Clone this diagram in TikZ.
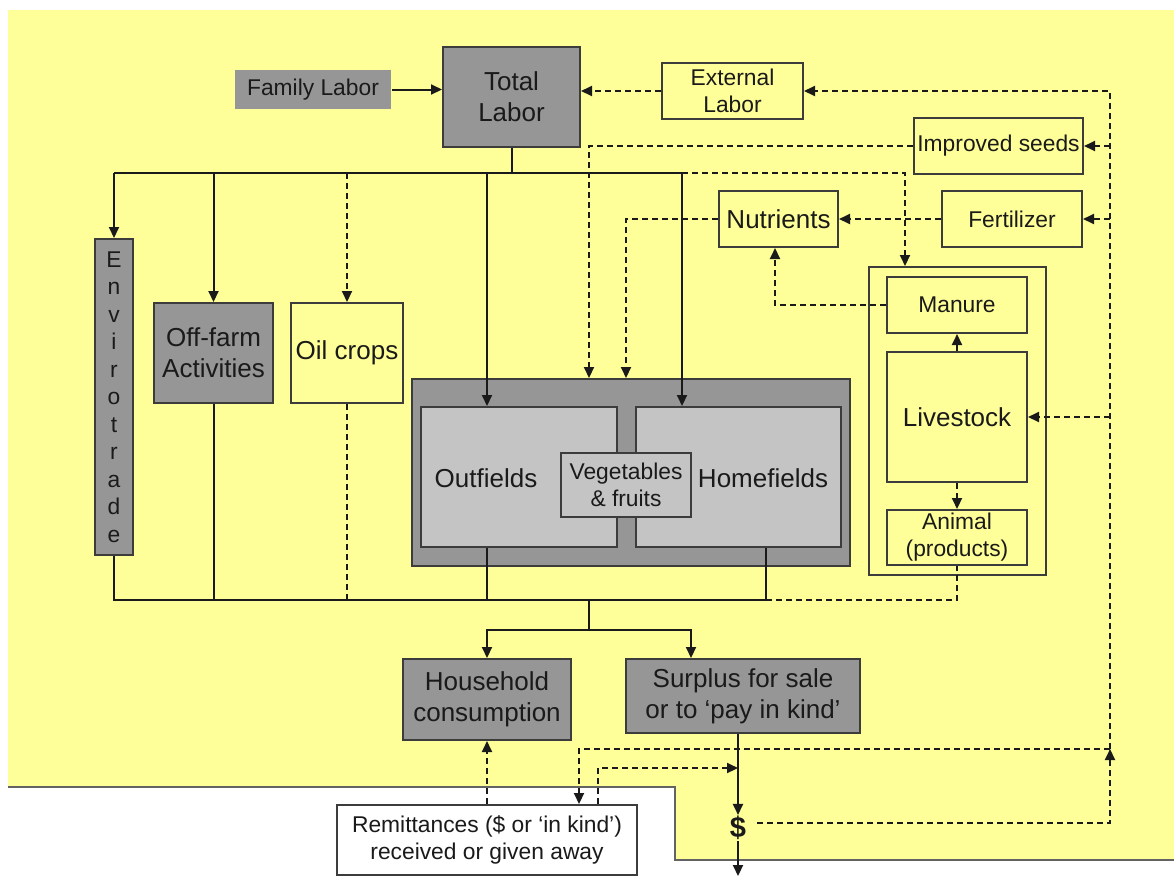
\documentclass[tikz,border=0pt]{standalone}
\usepackage{fontspec}
\setmainfont{Liberation Sans}
\usetikzlibrary{arrows.meta}
\definecolor{bgyellow}{HTML}{FFFF99}
\definecolor{dgray}{HTML}{969696}
\definecolor{lgray}{HTML}{C4C4C4}
\definecolor{edge}{HTML}{3C3C3C}
\definecolor{ink}{HTML}{1A1A1A}
\begin{document}
\begin{tikzpicture}[x=1pt,y=-1pt,
  box/.style={draw=edge,line width=2pt,inner sep=0pt,text=ink,align=center},
  big/.style={font=\fontsize{26}{31}\selectfont},
  small/.style={font=\fontsize{22.8}{27}\selectfont},
  ybox/.style={box,fill=bgyellow},
  gbox/.style={box,fill=dgray},
  lbox/.style={box,fill=lgray},
  sz/.style 2 args={minimum width=#1pt,minimum height=#2pt},
  conn/.style={draw=ink,line width=2pt},
  arr/.style={conn,-{Triangle[length=11pt,width=10pt]}},
  dconn/.style={conn,dash pattern=on 6pt off 4pt},
  darr/.style={dconn,-{Triangle[length=11pt,width=10pt]}},
]
\useasboundingbox (0,0) rectangle (1174,876);
\fill[white] (0,0) rectangle (1174,876);
\fill[bgyellow] (8,10) -- (1174,10) -- (1174,860) -- (675,860) -- (675,787) -- (8,787) -- cycle;
\draw[edge!80,line width=2pt] (8,787) -- (675,787) -- (675,860) -- (1174,860);

% nodes
\node[gbox,draw=none,small,sz={156}{39}] (family) at (313,89.5) {Family Labor};
\node[gbox,big,sz={137}{100}] (total) at (511.5,97) {Total\\Labor};
\node[ybox,small,sz={141}{56}] (external) at (732.5,91) {External\\Labor};
\node[ybox,small,sz={169}{56}] (seeds) at (998.5,146) {Improved seeds};
\node[ybox,big,sz={119}{56}] (nutrients) at (778.5,219) {Nutrients};
\node[ybox,small,sz={140}{56}] (fert) at (1012,219) {Fertilizer};
\node[gbox,font=\fontsize{22.8}{27.5}\selectfont,sz={38}{316}] (envi) at (114,397) {E\\n\\v\\i\\r\\o\\t\\r\\a\\d\\e};
\node[gbox,big,sz={119}{100}] (offfarm) at (213.5,353) {Off-farm\\Activities};
\node[ybox,big,sz={112}{100}] (oil) at (347,353) {Oil crops};
\node[gbox,sz={438}{187}] (bigbox) at (631,472.5) {};
\node[lbox,sz={196}{140}] (outfields) at (519,477) {};
\node[lbox,sz={205}{140}] (homefields) at (738.5,477) {};
\node[lbox,small,sz={130}{64}] (veg) at (626,485) {Vegetables\\\& fruits};
\node[big,text=ink] (outlabel) at (486,478) {Outfields};
\node[big,text=ink] (homelabel) at (763,478) {Homefields};
\node[ybox,sz={177}{308}] (lsouter) at (957.3,421) {};
\node[ybox,small,sz={140}{56}] (manure) at (957,305) {Manure};
\node[ybox,big,sz={140}{130}] (livestock) at (957,417) {Livestock};
\node[ybox,small,sz={140}{55}] (animal) at (957,537.5) {Animal\\(products)};
\node[gbox,big,sz={168}{81}] (household) at (487,699.5) {Household\\consumption};
\node[gbox,big,sz={234}{74}] (surplus) at (743,696) {Surplus for sale\\or to ‘pay in kind’};
\node[box,fill=white,small,sz={300}{70}] (remit) at (487,840) {Remittances (\$ or ‘in kind’)\\received or given away};
\node[font=\bfseries\fontsize{29}{32}\selectfont,text=ink,inner sep=1pt] (dollar) at (738,828) {\$};

% helper coordinates
\coordinate (rtop) at (1110,91);
\coordinate (rbot) at (1110,823);
\coordinate (rmid) at (1110,749);
\coordinate (rl) at (579,749);
\coordinate (sx) at (589,0);
\coordinate (nx) at (626,0);
\coordinate (mx) at (775,0);
\coordinate (busy) at (0,173);
\coordinate (ox) at (487,0);
\coordinate (hx) at (682,0);
\coordinate (lx) at (905,0);
\coordinate (boty) at (0,600);
\coordinate (hbx) at (766,0);
\coordinate (jx) at (589,0);
\coordinate (jy) at (0,630);
\coordinate (sux) at (691,0);
\coordinate (r2x) at (598,0);
\coordinate (r2y) at (0,768);
\coordinate (dlx) at (757,0);
\coordinate (pageb) at (0,876);

% top connectors
\draw[arr] (family.east) -- (total.west |- family.east);
\draw[darr] (external.west) -- (total.east |- external.west);
\draw[darr] (dlx |- rbot) -- (rbot) -- (rmid);
\draw[darr] (rmid) -- (rtop) -- (external.east);
\draw[darr] (seeds.east -| rtop) -- (seeds.east);
\draw[darr] (fert.east -| rtop) -- (fert.east);
\draw[darr] (livestock.east -| rtop) -- (livestock.east);
\draw[darr] (rmid) -- (rl) -- (rl |- remit.north);
\draw[darr] (seeds.west) -| (sx |- bigbox.north);
\draw[darr] (fert.west) -- (nutrients.east);
\draw[darr] (nutrients.west) -| (nx |- bigbox.north);
\draw[darr] (manure.west) -| (mx |- nutrients.south);
\draw[darr] (livestock.north) -- (manure.south);
\draw[darr] (livestock.south) -- (animal.north);

% labour bus
\draw[conn] (total.south) -- (total.south |- busy);
\draw[conn] (envi.north |- busy) -- (hx |- busy);
\draw[arr] (envi.north |- busy) -- (envi.north);
\draw[arr] (offfarm.north |- busy) -- (offfarm.north);
\draw[darr] (oil.north |- busy) -- (oil.north);
\draw[arr] (ox |- busy) -- (ox |- outfields.north);
\draw[arr] (hx |- busy) -- (hx |- homefields.north);
\draw[darr] (hx |- busy) -| (lx |- lsouter.north);

% output bus
\draw[conn] (envi.south) -- (envi.south |- boty) -- (hbx |- boty) -- (hbx |- homefields.south);
\draw[conn] (offfarm.south) -- (offfarm.south |- boty);
\draw[dconn] (oil.south) -- (oil.south |- boty);
\draw[conn] (ox |- outfields.south) -- (ox |- boty);
\draw[dconn] (hbx |- boty) -| (animal.south);
\draw[conn] (jx |- boty) -- (jx |- jy);
\draw[arr] (jx |- jy) -| (household.north);
\draw[arr] (jx |- jy) -| (sux |- surplus.north);

% money
\draw[arr] (dollar.north |- surplus.south) -- (dollar.north);
\draw[arr] (dollar.south) -- (dollar.south |- pageb);
\draw[darr] (remit.north) -- (household.south);
\draw[darr] (r2x |- remit.north) -- (r2x |- r2y) -- (dollar.north |- r2y);
\end{tikzpicture}
\end{document}
